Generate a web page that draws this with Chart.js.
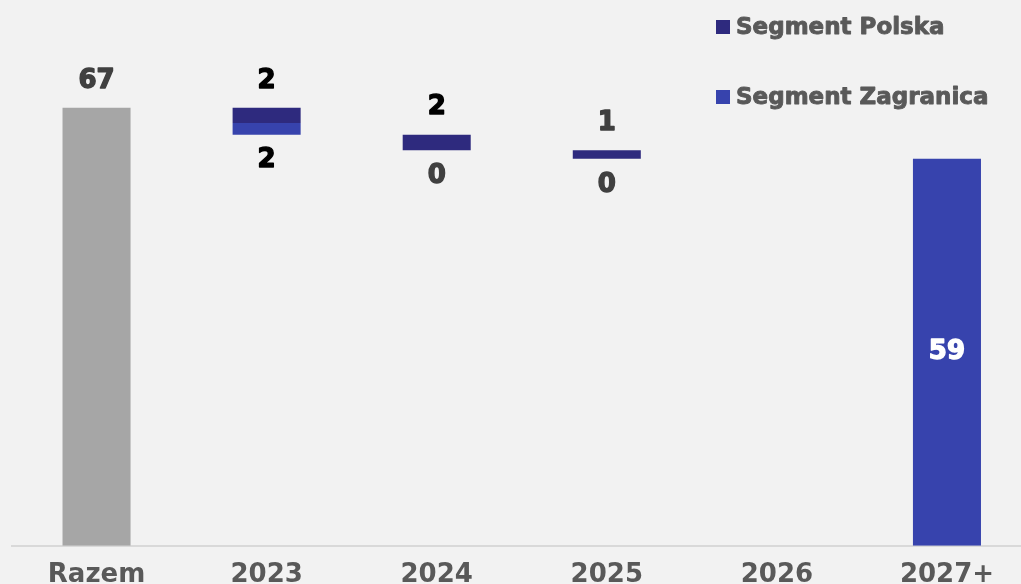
<!DOCTYPE html>
<html>
<head>
<meta charset="utf-8">
<script src="https://cdn.jsdelivr.net/npm/chart.js@4"></script>
<style>
  html, body { margin: 0; padding: 0; background: #f2f2f2; overflow: hidden; }
  #wrap { position: absolute; left: 0; top: 0; width: 1032px; height: 605px; }
</style>
</head>
<body>
<div id="wrap"><canvas id="chart"></canvas></div>
<script>
// Categories along the x axis
const categories = ['Razem', '2023', '2024', '2025', '2026', '2027+'];
// Starting total (Razem)
const total = 67;
// Yearly decrements per segment, 2023–2026 (null = no entry)
const polska = [2.3, 2.4, 1.3, null];
const zagranica = [1.8, 0, 0, null];
// Remaining value shown for 2027+
const remaining = 59.2;

const COLORS = {
  total: '#a6a6a6',
  polska: '#2e2a7e',
  zagranica: '#3743ad',
  label: '#404040',
  legendText: '#595959',
  axis: '#d9d9d9'
};

// Build floating [low, high] ranges for the waterfall
const totalData = categories.map(() => null);
const polskaData = categories.map(() => null);
const zagrData = categories.map(() => null);
totalData[0] = [0, total];
let running = total;
for (let i = 0; i < polska.length; i++) {
  const idx = i + 1;
  if (polska[i] === null) continue;
  polskaData[idx] = [running - polska[i], running];
  running -= polska[i];
  zagrData[idx] = [running - zagranica[i], running];
  running -= zagranica[i];
}
zagrData[categories.length - 1] = [0, remaining];

const labelFont = 'bold 26px "DejaVu Sans"';
const polskaLabelColors = ['#000000', '#000000', '#404040'];
const zagrLabelColors = ['#000000', '#404040', '#404040'];

// Draws heavier text by adding a thin outline in the fill colour
function heavyText(ctx, text, x, y, color, weight) {
  ctx.fillStyle = color;
  ctx.strokeStyle = color;
  ctx.lineWidth = weight;
  ctx.lineJoin = 'round';
  ctx.strokeText(text, x, y);
  ctx.fillText(text, x, y);
}

// Value labels drawn next to each bar
const valueLabels = {
  id: 'valueLabels',
  afterDatasetsDraw(chart) {
    const ctx = chart.ctx;
    ctx.save();
    ctx.font = labelFont;
    ctx.textAlign = 'center';
    ctx.textBaseline = 'middle';
    const last = categories.length - 1;
    chart.data.datasets.forEach((ds, di) => {
      const meta = chart.getDatasetMeta(di);
      meta.data.forEach((el, i) => {
        const v = ds.data[i];
        if (!v) return;
        const p = el.getProps(['x', 'y', 'base'], true);
        const top = Math.min(p.y, p.base);
        const bottom = Math.max(p.y, p.base);
        const value = String(Math.round(v[1] - v[0]));
        if (ds.role === 'total') {
          heavyText(ctx, value, p.x, top - 27, COLORS.label, 1.4);
        } else if (ds.role === 'polska') {
          heavyText(ctx, value, p.x, top - 27, polskaLabelColors[i - 1], 1.4);
        } else if (ds.role === 'zagranica') {
          if (i === last) {
            heavyText(ctx, value, p.x, (top + bottom) / 2, '#ffffff', 1.4);
          } else {
            heavyText(ctx, value, p.x, bottom + 26, zagrLabelColors[i - 1], 1.4);
          }
        }
      });
    });
    ctx.restore();
  }
};

// Stacked legend in the top-right corner
const cornerLegend = {
  id: 'cornerLegend',
  afterDraw(chart) {
    const ctx = chart.ctx;
    ctx.save();
    ctx.font = 'bold 23px "DejaVu Sans"';
    ctx.textAlign = 'left';
    ctx.textBaseline = 'middle';
    const items = chart.data.datasets.filter(d => d.role !== 'total');
    items.forEach((d, k) => {
      const y = 27 + k * 70;
      ctx.fillStyle = d.backgroundColor;
      ctx.fillRect(716, y - 7, 14, 14);
      heavyText(ctx, d.label, 736, y + 1, COLORS.legendText, 0.9);
    });
    ctx.restore();
  }
};

new Chart(document.getElementById('chart'), {
  type: 'bar',
  data: {
    labels: categories,
    datasets: [
      { label: 'Razem', role: 'total', data: totalData, backgroundColor: COLORS.total },
      { label: 'Segment Polska', role: 'polska', data: polskaData, backgroundColor: COLORS.polska },
      { label: 'Segment Zagranica', role: 'zagranica', data: zagrData, backgroundColor: COLORS.zagranica }
    ]
  },
  options: {
    responsive: true,
    maintainAspectRatio: false,
    animation: false,
    layout: { padding: { left: 11.5, right: 0, top: 0, bottom: 0 } },
    datasets: { bar: { grouped: false, categoryPercentage: 1, barPercentage: 0.4, borderWidth: 0 } },
    plugins: { legend: { display: false }, tooltip: { enabled: false } },
    scales: {
      x: {
        grid: { display: false, drawTicks: false },
        border: { display: true, color: COLORS.axis, width: 2 },
        ticks: {
          color: '#595959',
          font: { family: '"DejaVu Sans"', weight: 'bold', size: 26 },
          padding: 14
        }
      },
      y: { display: false, min: 0, max: 83.5 }
    }
  },
  plugins: [valueLabels, cornerLegend]
});
</script>
</body>
</html>
